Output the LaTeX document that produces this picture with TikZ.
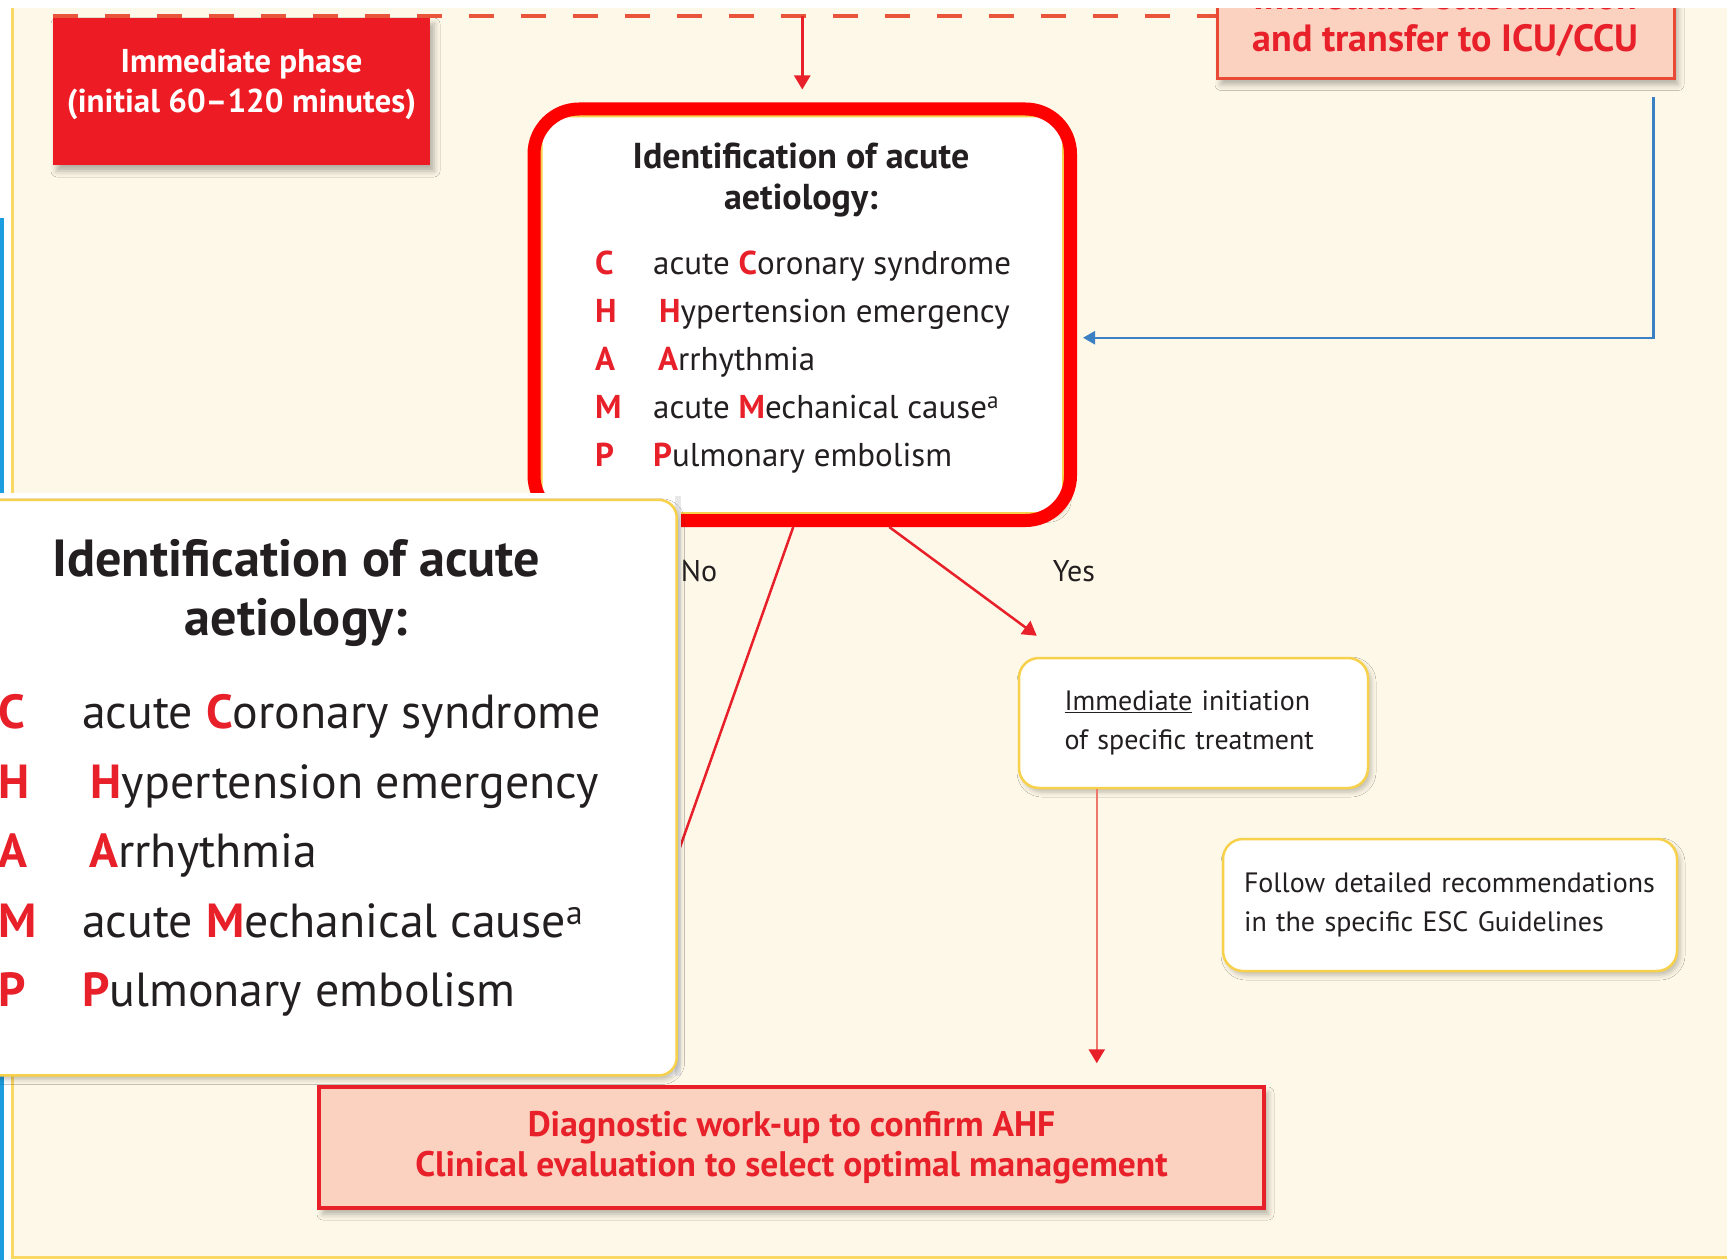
\documentclass[tikz,border=0pt]{standalone}
\usepackage{fontspec}
\setmainfont{PT Sans}
\usetikzlibrary{positioning,calc,fit,arrows.meta,shadows.blur}

\definecolor{cream}{HTML}{FDF8E7}
\definecolor{panelyellow}{HTML}{FAD864}
\definecolor{cardyellow}{HTML}{F7D14B}
\definecolor{phasered}{HTML}{ED1C24}
\definecolor{salmon}{HTML}{FBD1C0}
\definecolor{salmonedge}{HTML}{E94A35}
\definecolor{champred}{HTML}{E8202A}
\definecolor{ringred}{HTML}{FF0000}
\definecolor{returnblue}{HTML}{3A80C2}
\definecolor{edgeblue}{HTML}{1C9DE0}
\definecolor{inkdark}{HTML}{231F20}
\definecolor{dashred}{HTML}{E8553A}
\definecolor{pinkline}{HTML}{F07868}

\newcommand{\champhl}[1]{{\color{champred}\bfseries #1}}
% CHAMP card, drawn with its top left corner at the local origin
\newcommand{\champcard}[1]{%
  \node[cardbox, anchor=north west] (#1) at (0,0) {};
  \node[cardhead, anchor=base] (#1-h1) at (261,54) {Identification of acute};
  \node[cardhead, anchor=base] (#1-h2) at (261,95) {aetiology:};
  \foreach \ltr/\txt [count=\i] in {%
      C/{acute \champhl{C}oronary syndrome},
      H/{\hspace*{6pt}\champhl{H}ypertension emergency},
      A/{\hspace*{5pt}\champhl{A}rrhythmia},
      M/{acute \champhl{M}echanical cause\textsuperscript{a}},
      P/{\champhl{P}ulmonary embolism}}{
    \node[cardletter, anchor=base west] (#1-l\i) at (55,{111+48*\i}) {\ltr};
    \node[cardtext, anchor=base west] (#1-t\i) at (113,{111+48*\i}) {\txt};
  }%
}

\begin{document}
\begin{tikzpicture}[x=1pt, y=-1pt]
    \tikzset{
        cardbox/.style={draw=cardyellow, line width=2.5pt, fill=white, rounded corners=18pt,
            minimum width=522pt, minimum height=397pt, inner sep=0pt,
            blur shadow={shadow xshift=3pt, shadow yshift=-4pt, shadow blur radius=5pt, shadow opacity=25}},
        cardhead/.style={font=\fontsize{36}{42}\selectfont\bfseries, text=inkdark, inner sep=0pt},
        cardletter/.style={font=\fontsize{33}{40}\selectfont\bfseries, text=champred, inner sep=0pt},
        cardtext/.style={font=\fontsize{33}{40}\selectfont, text=inkdark, inner sep=0pt},
        champring/.style={draw=ringred, line width=13pt, rounded corners=45pt, inner sep=6pt},
        phasebox/.style={fill=phasered, text=white, font=\fontsize{33}{40}\selectfont\bfseries,
            minimum width=377pt, minimum height=147pt, inner sep=0pt,
            blur shadow={shadow xshift=4pt, shadow yshift=-6pt, shadow blur radius=6pt, shadow opacity=30}},
        salmonbox/.style={fill=salmon, draw=salmonedge, line width=3pt, text=champred, align=center,
            blur shadow={shadow xshift=4pt, shadow yshift=-6pt, shadow blur radius=6pt, shadow opacity=30}},
        notebox/.style={draw=cardyellow, line width=2.5pt, fill=white, rounded corners=20pt, align=left,
            text=inkdark, font=\fontsize{28}{39}\selectfont,
            blur shadow={shadow xshift=3pt, shadow yshift=-4pt, shadow blur radius=5pt, shadow opacity=25}},
        answer/.style={font=\fontsize{30}{36}\selectfont, text=inkdark},
        redline/.style={draw=champred, line width=2.5pt},
        redarrow/.style={redline, -{Triangle[length=14pt, width=16pt]}},
        pinkarrow/.style={draw=pinkline, line width=2.5pt, -{Triangle[length=14pt, width=16pt, color=champred]}},
        bluearrow/.style={draw=returnblue, line width=2.5pt, -{Triangle[length=12pt, width=13pt]}},
        phaserule/.style={draw=dashred, line width=4pt, dash pattern=on 25pt off 27pt}
    }
    \useasboundingbox (0,0) rectangle (1727,1260);

    % panel
    \fill[white] (0,0) rectangle (1727,1260);
    \fill[cream] (12,8) rectangle (1727,1256);
    \draw[panelyellow, line width=3pt] (12,8) -- (12,1257) -- (1727,1257);
    \draw[edgeblue, line width=4pt] (2,218) -- (2,1260);

    % header boxes
    \node[phasebox] (phase) at (241.5,91.5)
        {\raisebox{7pt}[\height][\depth]{\begin{tabular}{@{}c@{}}Immediate phase\\(initial 60--120 minutes)\end{tabular}}};
    \node[salmonbox, font=\fontsize{38}{42}\selectfont\bfseries, minimum width=457pt, inner ysep=22pt,
        anchor=south] (stabil) at (1445.5,80) {Immediate stabilization\\and transfer to ICU/CCU};
    \coordinate (dashL) at ([yshift=2pt]phase.north west);
    \draw[phaserule] (dashL) -- (dashL -| stabil.west);

    % CHAMP card with red ring
    \begin{scope}[shift={(540,115)}]
        \champcard{champ}
    \end{scope}
    \node[champring, fit=(champ)] (ring) {};

    \coordinate (drop) at (dashL -| ring.north);
    \draw[redarrow, shorten >=13pt] (drop) -- (ring.north);

    \coordinate (blueTop) at ([xshift=-22pt, yshift=-17pt]stabil.south east);
    \coordinate (blueEnd) at ([xshift=6pt, yshift=-23pt]ring.east);
    \draw[bluearrow] (blueTop) |- (blueEnd);

    % answers
    \node[notebox, minimum width=349pt, minimum height=130pt, text width=258pt] (treat) at (1193.5,723)
        {\underline{Immediate} initiation\\of specific treatment};
    \node[notebox, minimum width=454pt, minimum height=132pt, text width=412pt] (follow) at (1450,905)
        {Follow detailed recommendations\\in the specific ESC Guidelines};
    \node[salmonbox, font=\fontsize{35.5}{40}\selectfont\bfseries, draw=champred, line width=3.5pt,
        minimum width=945pt, minimum height=121pt] (diag) at (791.5,1147.5)
        {Diagnostic work-up to confirm AHF\\Clinical evaluation to select optimal management};

    \coordinate (noFoot) at (626,1000);
    \draw[redline] ([xshift=-9pt]ring.south) -- (noFoot);
    \node[answer] (no) at (699,571) {No};
    \draw[redarrow] ([xshift=87pt]ring.south) -- ([shift={(19pt,21pt)}]treat.north west);
    \node[answer] (yes) at (1074,571) {Yes};

    \coordinate (treatOut) at ([xshift=79pt]treat.south west);
    \draw[pinkarrow, shorten >=22pt] (treatOut) -- (treatOut |- diag.north);

    % magnified copy of the card
    \fill[white] (-5,493) rectangle (681,1076);
    \fill[black!9] (675,496) rectangle (681,1076);
    \begin{scope}[shift={(-82,498)}, scale=1.45, transform shape]
        \champcard{zoom}
    \end{scope}

    % top strip
    \fill[white] (0,0) rectangle (1727,8);
\end{tikzpicture}
\end{document}
